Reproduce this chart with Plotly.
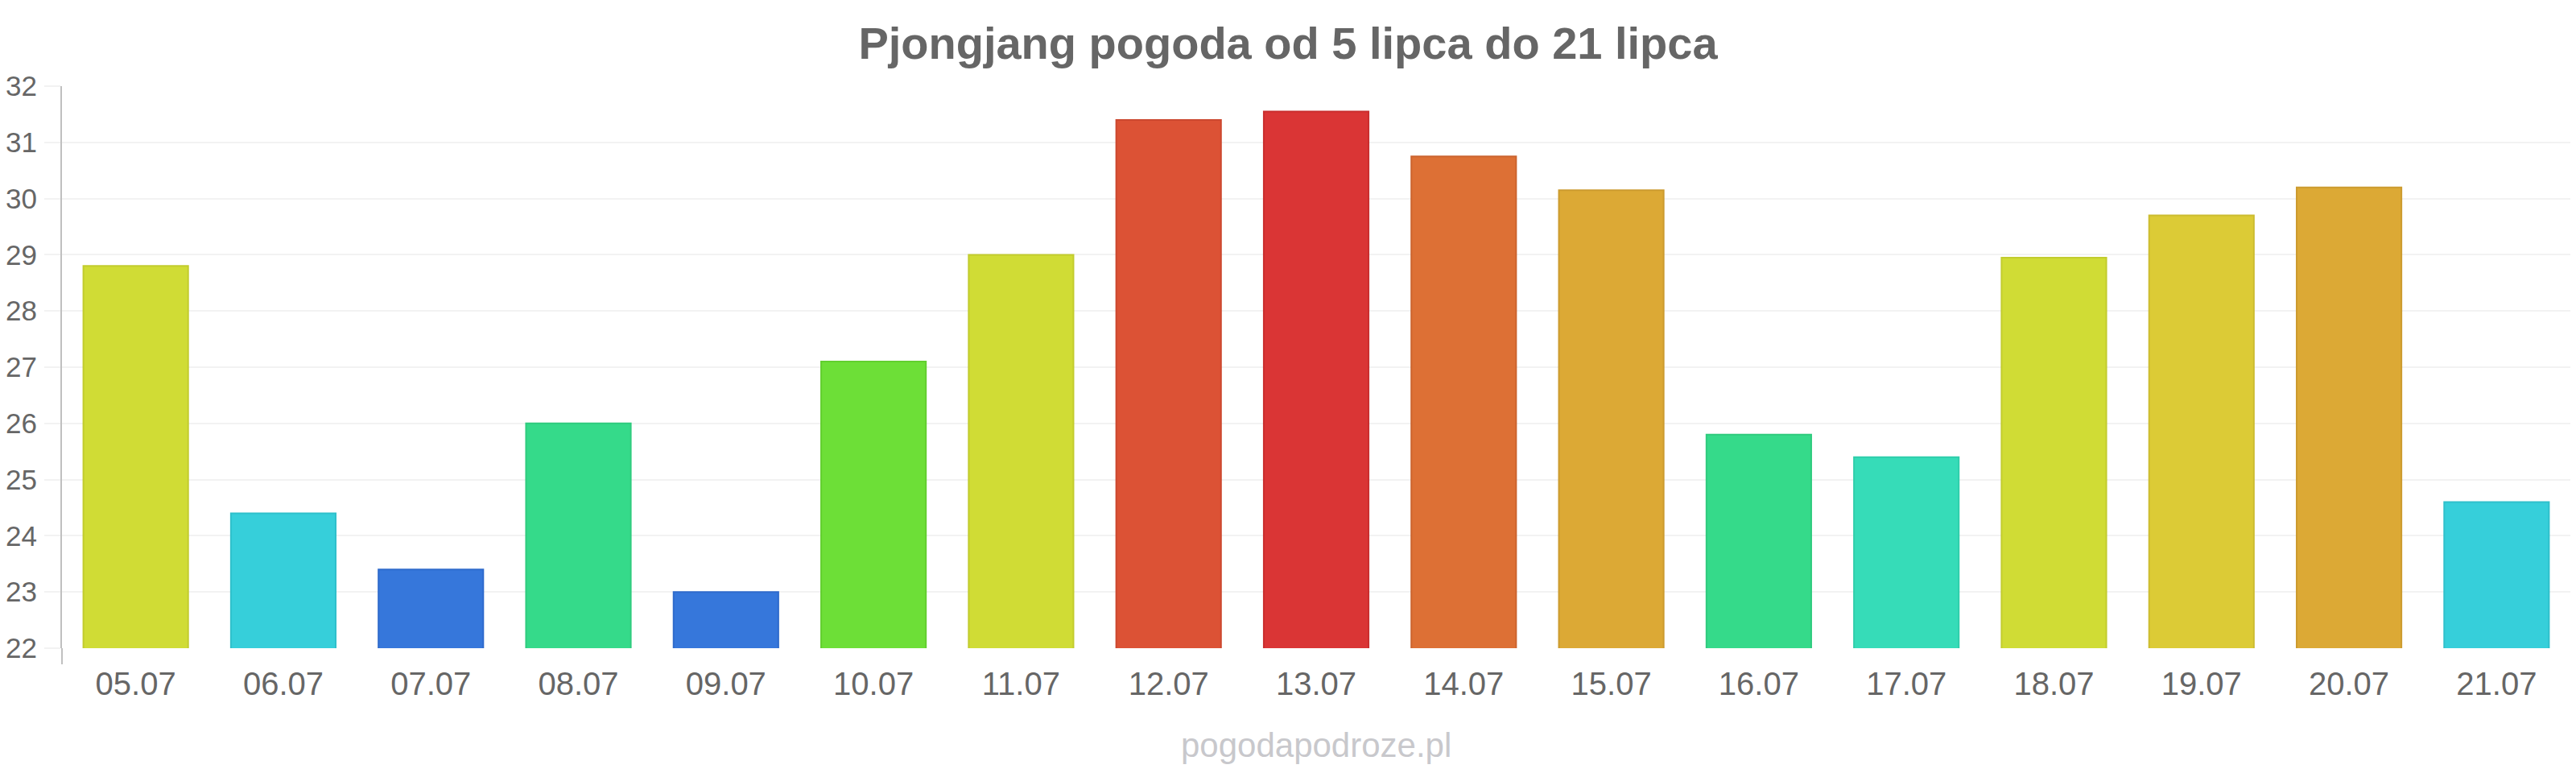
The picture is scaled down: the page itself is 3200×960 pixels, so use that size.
import plotly.graph_objects as go

dates = ["05.07", "06.07", "07.07", "08.07", "09.07", "10.07", "11.07", "12.07", "13.07",
         "14.07", "15.07", "16.07", "17.07", "18.07", "19.07", "20.07", "21.07"]
temps = [28.8, 24.4, 23.4, 26.0, 23.0, 27.1, 29.0, 31.4, 31.55,
         30.75, 30.15, 25.8, 25.4, 28.95, 29.7, 30.2, 24.6]
colors = ["#d0dc35", "#36cfda", "#3677db", "#35da8a", "#3677db", "#6ddf37", "#d0dc35",
          "#dc5235", "#da3535", "#dd7035", "#dca935", "#35da8a", "#36dcb8", "#d0dc35",
          "#dccb36", "#dca935", "#36cfda"]
borders = ["#c2cc2e", "#2fc0cb", "#2f6bcc", "#2fcb7e", "#2f6bcc", "#62cf2f", "#c2cc2e",
           "#cc482f", "#c92e2e", "#cc642f", "#cc9b2f", "#2fcb7e", "#2fcdaa", "#c2cc2e",
           "#ccbc2f", "#cc9b2f", "#2fc0cb"]

FONT = "Liberation Sans, Arial, sans-serif"

fig = go.Figure(go.Bar(
    x=dates, y=temps, base=0,
    marker=dict(color=colors, line=dict(color=borders, width=2)),
    hoverinfo="x+y",
))

fig.update_layout(
    width=3200, height=960,
    margin=dict(l=77, r=7, t=107, b=155),
    paper_bgcolor="white", plot_bgcolor="white",
    bargap=0.29,
    showlegend=False,
    title=dict(text="<b>Pjongjang pogoda od 5 lipca do 21 lipca</b>",
               x=0.5, xanchor="center", y=1 - 53 / 960, yanchor="middle",
               font=dict(family=FONT, size=56, color="#666666")),
    font=dict(family=FONT, color="#666666"),
)
fig.update_xaxes(
    showgrid=False, zeroline=False, showline=False,
    ticks="", tickfont=dict(size=40, color="#666666"),
    ticklabelstandoff=17,
)
fig.update_yaxes(
    range=[22, 32], dtick=1, tick0=22,
    showgrid=True, gridcolor="#f2f2f2", gridwidth=2,
    zeroline=False,
    showline=True, linecolor="#c0c0c0", linewidth=2,
    ticks="outside", ticklen=20, tickcolor="#f2f2f2", tickwidth=2,
    tickfont=dict(size=35, color="#666666"),
    ticklabelstandoff=2,
)
fig.add_shape(type="line", xref="paper", yref="paper", x0=0, x1=0, y0=0, y1=-20 / 698,
              line=dict(color="#c0c0c0", width=2))
fig.add_annotation(text="pogodapodroze.pl", xref="paper", yref="paper",
                   x=0.5, y=-120 / 698, xanchor="center", yanchor="middle",
                   showarrow=False, font=dict(family=FONT, size=42, color="#c8c8cc"))

fig.write_html("out.html")
